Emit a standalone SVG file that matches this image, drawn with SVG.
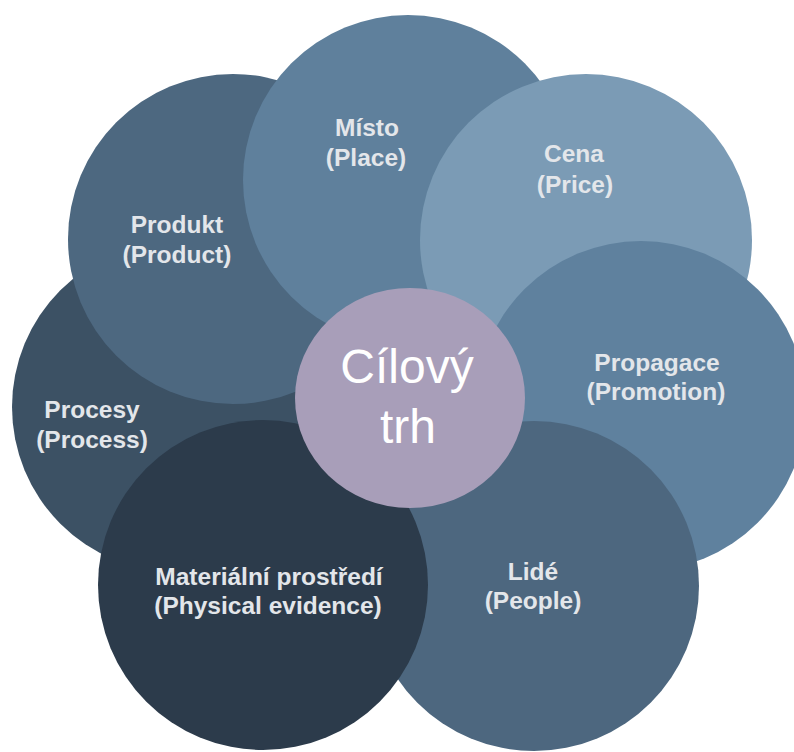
<svg xmlns="http://www.w3.org/2000/svg" width="794" height="752" viewBox="0 0 794 752">
<style>
.lbl{font-family:"Liberation Sans",Arial,Helvetica,sans-serif;font-weight:bold;font-size:24.5px;fill:#E3E6EA;text-anchor:middle}
.ctr{font-family:"Liberation Sans",Arial,Helvetica,sans-serif;font-size:48px;fill:#FFFFFF;text-anchor:middle}
</style>
<rect width="794" height="752" fill="#FFFFFF"/>
<g id="procesy">
<circle cx="177" cy="407" r="165" fill="#3C5164"/>
<text class="lbl" x="92" y="418">Procesy</text>
<text class="lbl" x="92" y="448">(Process)</text>
</g>
<g id="produkt">
<circle cx="233" cy="239" r="165" fill="#4D6880"/>
<text class="lbl" x="177" y="233">Produkt</text>
<text class="lbl" x="177" y="263">(Product)</text>
</g>
<g id="misto">
<circle cx="408" cy="180" r="165" fill="#5F809C"/>
<text class="lbl" x="367" y="136">Místo</text>
<text class="lbl" x="366" y="166">(Place)</text>
</g>
<g id="cena">
<circle cx="586" cy="240" r="166" fill="#7B9BB5"/>
<text class="lbl" x="574" y="162">Cena</text>
<text class="lbl" x="575" y="193">(Price)</text>
</g>
<g id="propagace">
<circle cx="641" cy="406" r="165" fill="#5F819E"/>
<text class="lbl" x="657" y="371">Propagace</text>
<text class="lbl" x="656" y="400">(Promotion)</text>
</g>
<g id="lide">
<circle cx="534" cy="586" r="165" fill="#4D677F"/>
<text class="lbl" x="533" y="580">Lidé</text>
<text class="lbl" x="533" y="609">(People)</text>
</g>
<g id="materialni">
<circle cx="263" cy="585" r="165" fill="#2C3B4B"/>
<text class="lbl" x="269" y="585">Materiální prostředí</text>
<text class="lbl" x="268" y="614">(Physical evidence)</text>
</g>
<g id="cilovy-trh">
<ellipse cx="410" cy="398" rx="115" ry="110" fill="#A89EB9"/>
<text class="ctr" x="407" y="383">Cílový</text>
<text class="ctr" x="408" y="443">trh</text>
</g>
<g id="connectors"/>
</svg>
